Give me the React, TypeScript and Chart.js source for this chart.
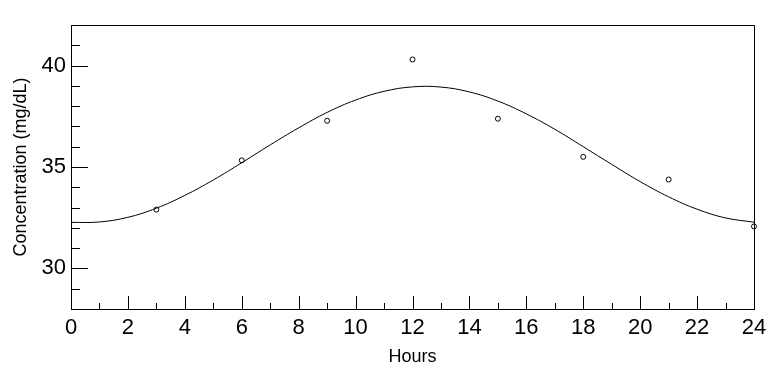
import React, { useEffect, useRef } from "react";
import { Chart, registerables } from "chart.js";

Chart.register(...registerables);

// Observed measurements (hours, mg/dL)
const obsHours = [3, 6, 9, 12, 15, 18, 21, 24];
const obsConc = [32.9, 35.33, 37.28, 40.3, 37.38, 35.5, 34.38, 32.07];

// Fitted curve at every hour
const curveHours = [0, 1, 2, 3, 4, 5, 6, 7, 8, 9, 10, 11, 12, 13, 14, 15, 16, 17, 18, 19, 20, 21, 22, 23, 24];
const curveConc = [
  32.27, 32.29, 32.52, 32.97, 33.6, 34.36, 35.21, 36.09, 36.93, 37.69, 38.3, 38.73, 38.95,
  38.94, 38.7, 38.25, 37.62, 36.86, 36.0, 35.13, 34.28, 33.53, 32.92, 32.49, 32.28,
];

const xMin = 0;
const xMax = 24;
const yMin = 28;
const yMax = 42;
const xLabelStep = 2;
const yLabelStep = 5;

const FONT = "'Liberation Sans', Arial, sans-serif";

const frameTicks = {
  id: "frameTicks",
  afterDatasetsDraw(chart: any) {
    const { ctx, chartArea, scales } = chart;
    const { left, right, top, bottom } = chartArea;
    ctx.save();
    ctx.strokeStyle = "#000";
    ctx.lineWidth = 1;
    ctx.beginPath();
    ctx.rect(left + 0.5, top + 0.5, right - left, bottom - top);
    ctx.stroke();
    // y ticks (inside)
    const ys = scales.y;
    for (let v = yMin; v <= yMax; v += 1) {
      const py = Math.round(ys.getPixelForValue(v)) + 0.5;
      const len = v % yLabelStep === 0 ? 17 : 9;
      ctx.beginPath();
      ctx.moveTo(left, py);
      ctx.lineTo(left + len, py);
      ctx.stroke();
    }
    // x ticks (inside)
    const xs = scales.x;
    for (let v = xMin; v <= xMax; v += 1) {
      const px = Math.round(xs.getPixelForValue(v)) + 0.5;
      const len = v % xLabelStep === 0 ? 13 : 6;
      ctx.beginPath();
      ctx.moveTo(px, bottom);
      ctx.lineTo(px, bottom - len);
      ctx.stroke();
    }
    ctx.restore();
  },
};

export default function App() {
  const ref = useRef<HTMLCanvasElement | null>(null);

  useEffect(() => {
    if (!ref.current) return;
    const chart = new Chart(ref.current, {
      type: "scatter",
      data: {
        datasets: [
          {
            type: "line",
            data: curveHours.map((h, i) => ({ x: h, y: curveConc[i] })),
            borderColor: "#000",
            borderWidth: 1,
            pointRadius: 0,
            tension: 0.4,
            fill: false,
          } as any,
          {
            data: obsHours.map((h, i) => ({ x: h, y: obsConc[i] })),
            borderColor: "#000",
            backgroundColor: "#fff",
            borderWidth: 1,
            pointRadius: 2.5,
            clip: false,
          } as any,
        ],
      },
      options: {
        responsive: false,
        animation: false,
        events: [],
        layout: { padding: { left: 0, top: 25, right: 28, bottom: 0 } },
        plugins: { legend: { display: false }, tooltip: { enabled: false } },
        scales: {
          x: {
            type: "linear",
            min: xMin,
            max: xMax,
            grid: { display: false, drawTicks: false },
            border: { display: true, color: "#000", width: 1 },
            ticks: {
              stepSize: 1,
              autoSkip: false,
              maxRotation: 0,
              padding: 6,
              color: "#000",
              font: { family: FONT, size: 22 },
              callback: (v: any) => (Number(v) % xLabelStep === 0 ? String(v) : ""),
            },
            title: {
              display: true,
              text: "Hours",
              color: "#000",
              font: { family: FONT, size: 18 },
              padding: { top: 0, bottom: 13 },
            },
            afterFit: (s: any) => {
              s.height = 72;
            },
          },
          y: {
            type: "linear",
            min: yMin,
            max: yMax,
            grid: { display: false, drawTicks: false },
            border: { display: true, color: "#000", width: 1 },
            ticks: {
              stepSize: 1,
              autoSkip: false,
              padding: 5,
              color: "#000",
              font: { family: FONT, size: 22 },
              callback: (v: any) => (Number(v) % yLabelStep === 0 ? String(v) : ""),
            },
            title: {
              display: true,
              text: "Concentration (mg/dL)",
              color: "#000",
              font: { family: FONT, size: 18 },
              padding: { top: 10, bottom: 0 },
            },
            afterFit: (s: any) => {
              s.width = 71;
            },
          },
        },
      },
      plugins: [frameTicks],
    });
    return () => chart.destroy();
  }, []);

  return (
    <div style={{ position: "fixed", left: 0, top: 0, width: 782, height: 381, background: "#fff" }}>
      <canvas ref={ref} width={782} height={381} />
    </div>
  );
}
